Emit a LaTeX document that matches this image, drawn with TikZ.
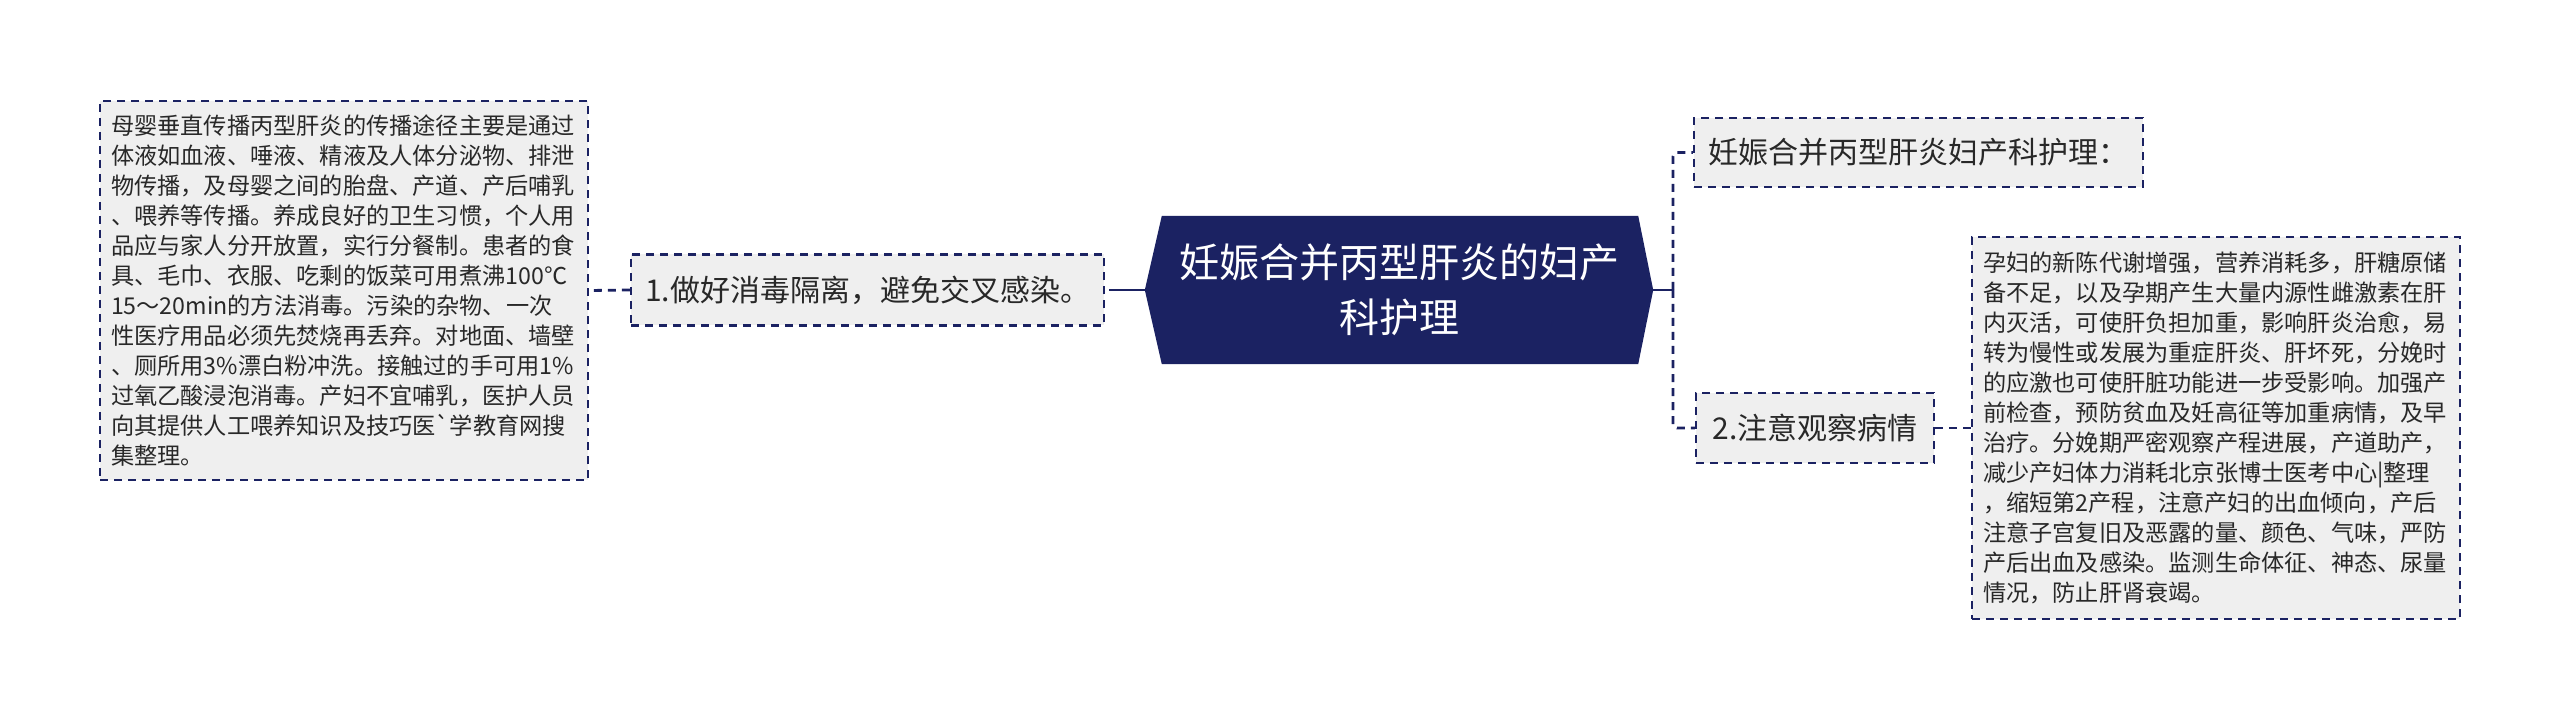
\documentclass[tikz,border=0pt]{standalone}
\usepackage{fontspec}
\newfontfamily\cjk{Noto Sans CJK SC}
\usetikzlibrary{backgrounds}
\definecolor{navy}{RGB}{27,34,98}
\definecolor{boxfill}{RGB}{239,239,239}
\definecolor{txt}{RGB}{40,40,40}
\tikzset{
  dashbox/.style={draw=navy, line width=2.4pt, dash pattern=on 8pt off 6pt, fill=boxfill, text=txt, inner sep=0pt},
  topicbox/.style={dashbox, font=\cjk\fontsize{30}{36}\selectfont, align=center},
  textbox/.style={dashbox, font=\cjk\fontsize{23.2}{30}\selectfont, align=left, text width=466pt},
  solidline/.style={draw=navy, line width=2.6pt},
  dashline/.style={draw=navy, line width=2.8pt, dash pattern=on 8pt off 6pt},
}
\begin{document}
\begin{tikzpicture}[x=1pt,y=-1pt]
\useasboundingbox (0,0) rectangle (2560,719);

% central topic
\node[minimum width=508pt, minimum height=148pt, inner sep=0pt, text=white,
      font=\cjk\fontsize{40}{55}\selectfont, align=center] (c) at (1399,290)
  {妊娠合并丙型肝炎的妇产\\科护理};
\begin{scope}[on background layer]
\fill[navy] (c.west) -- ([xshift=17pt]c.north west) -- ([xshift=-15pt]c.north east)
  -- (c.east) -- ([xshift=-15pt]c.south east) -- ([xshift=17pt]c.south west) -- cycle;
\end{scope}

% left branch
\node[topicbox, minimum width=473pt, minimum height=71pt] (n1) at (867.5,290)
  {1.做好消毒隔离，避免交叉感染。};
\node[textbox, minimum width=488pt, minimum height=379pt] (lbox) at (344,290.5)
  {母婴垂直传播丙型肝炎的传播途径主要是通过\\
   体液如血液、唾液、精液及人体分泌物、排泄\\
   物传播，及母婴之间的胎盘、产道、产后哺乳\\
   、喂养等传播。养成良好的卫生习惯，个人用\\
   品应与家人分开放置，实行分餐制。患者的食\\
   具、毛巾、衣服、吃剩的饭菜可用煮沸100℃\\
   15～20min的方法消毒。污染的杂物、一次\\
   性医疗用品必须先焚烧再丢弃。对地面、墙壁\\
   、厕所用3\%漂白粉冲洗。接触过的手可用1\%\\
   过氧乙酸浸泡消毒。产妇不宜哺乳，医护人员\\
   向其提供人工喂养知识及技巧医\textasciigrave 学教育网搜\\
   集整理。};

% right branch
\node[topicbox, minimum width=449pt, minimum height=69pt] (n0) at (1918.5,152.5)
  {妊娠合并丙型肝炎妇产科护理：};
\node[topicbox, minimum width=238pt, minimum height=70pt] (n2) at (1815,428)
  {2.注意观察病情};
\node[textbox, minimum width=488pt, minimum height=382pt] (rbox) at (2216,428)
  {孕妇的新陈代谢增强，营养消耗多，肝糖原储\\
   备不足，以及孕期产生大量内源性雌激素在肝\\
   内灭活，可使肝负担加重，影响肝炎治愈，易\\
   转为慢性或发展为重症肝炎、肝坏死，分娩时\\
   的应激也可使肝脏功能进一步受影响。加强产\\
   前检查，预防贫血及妊高征等加重病情，及早\\
   治疗。分娩期严密观察产程进展，产道助产，\\
   减少产妇体力消耗北京张博士医考中心|整理\\
   ，缩短第2产程，注意产妇的出血倾向，产后\\
   注意子宫复旧及恶露的量、颜色、气味，严防\\
   产后出血及感染。监测生命体征、神态、尿量\\
   情况，防止肝肾衰竭。};

% connectors
\coordinate (jl) at (1117,290);
\coordinate (jr) at (1673,290);
\draw[solidline] (c.west) -- (jl);
\draw[dashline] (jl) -- (n1.east);
\draw[dashline] (n1.west) -- (lbox.east);
\draw[solidline] (c.east) -- (jr);
\draw[dashline, rounded corners=4pt] (jr) |- (n0.west);
\draw[dashline, rounded corners=4pt] (jr) |- (n2.west);
\draw[dashline] (n2.east) -- (rbox.west);
\end{tikzpicture}
\end{document}
